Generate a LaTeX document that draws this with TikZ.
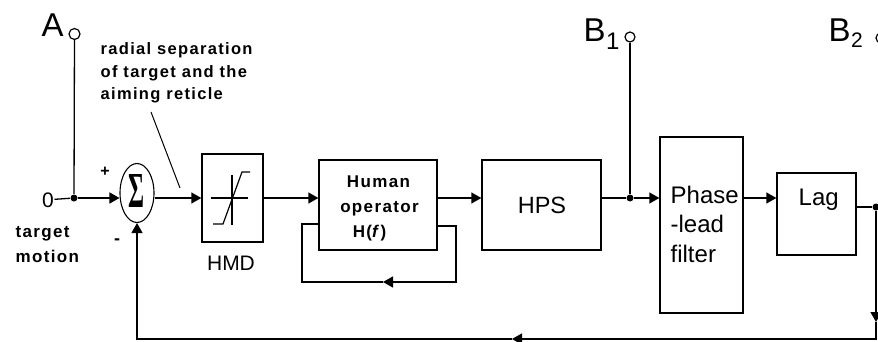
\documentclass[tikz,border=0pt]{standalone}
\usepackage{fontspec}
\setmainfont{Liberation Sans}
\newfontfamily\spc[LetterSpace=8]{Liberation Sans}
\newfontfamily\serf{Liberation Serif}
\usetikzlibrary{arrows.meta,shapes.geometric}
\newcommand\fsz[1]{\fontsize{#1}{#1}\selectfont}
\begin{document}
\begin{tikzpicture}[x=1pt,y=-1pt,line width=1.3pt,
  blk/.style={draw,line width=1.3pt,inner sep=0pt},
  txt/.style={inner sep=0pt,anchor=base west},
  ctxt/.style={inner sep=0pt,anchor=base},
  small/.style={font=\spc\bfseries\fsz{16.5}},
  arr/.style={-{Triangle[length=10pt,width=11pt]}},
  jdot/.style={circle,fill,inner sep=0pt,minimum size=7pt},
  term/.style={circle,draw,inner sep=0pt,minimum size=10pt,line width=1.2pt,fill=white}]
\useasboundingbox (0,0) rectangle (878,342);
\clip (0,0) rectangle (878,342);
% --- labels at the top
\node[txt,font=\fsz{33}] (lA) at (41,37) {A};
\node[term,minimum size=11pt] (cA) at (74.5,34) {};
\node[txt,small] (r1) at (100,55) {radial separation};
\node[txt,small] (r2) at (100,77.5) {of target and the};
\node[txt,small] (r3) at (100,99.5) {aiming reticle};
\coordinate (an1) at (151,112);
\coordinate (an2) at (180,188);
\draw[line width=1pt] (an1) -- (an2);
% --- input
\node[ctxt,font=\fsz{21}] (in0) at (48,207) {0};
\node[jdot] (jA) at (74,198) {};
\node[txt,font=\spc\bfseries\fsz{17}] (tg1) at (15,237) {target};
\node[txt,font=\spc\bfseries\fsz{17}] (tg2) at (15,262) {motion};
% --- summing junction
\node[draw,ellipse,line width=1.1pt,inner sep=0pt,minimum width=34pt,minimum height=59pt] (sig) at (137,193) {};
\node[inner sep=0pt] (sigt) at (136.5,190.5) {\resizebox{16pt}{33pt}{\serf\bfseries Σ}};
\node[inner sep=0pt,font=\bfseries\fsz{16}] (plus) at (105,172) {+};
\node[inner sep=0pt,font=\bfseries\fsz{18}] (minus) at (117,242) {-};
% --- HMD
\node[blk,minimum width=61pt,minimum height=88pt] (hmd) at (232.5,198) {};
\draw[line width=1.2pt] (211,198) -- (248,198);
\draw[line width=1.2pt] (232,175) -- (232,225);
\draw[line width=1.2pt] (213,224) -- (223,224) -- (242,172) -- (250,172);
\node[ctxt,font=\fsz{21}] (hmdt) at (231,270) {HMD};
% --- human operator
\node[blk,minimum width=118pt,minimum height=90pt] (ho) at (378,205) {};
\node[ctxt,font=\spc\bfseries\fsz{17}] (ho1) at (378.5,187) {Human};
\node[ctxt,font=\spc\bfseries\fsz{17}] (ho2) at (379.5,212) {operator};
\node[ctxt,font=\spc\bfseries\fsz{17}] (ho3) at (369.5,237) {H(\textit{f})};
% --- HPS
\node[blk,minimum width=119pt,minimum height=90pt] (hps) at (541.5,205) {};
\node[ctxt,font=\fsz{23.5}] (hpst) at (542,213) {HPS};
% --- phase-lead filter
\node[blk,minimum width=83pt,minimum height=176pt] (pl) at (701.5,225) {};
\node[txt,font=\fsz{24}] (pl1) at (670,203) {Phase};
\node[txt,font=\fsz{24}] (pl2) at (670,232) {-lead};
\node[txt,font=\fsz{24}] (pl3) at (670,262) {filter};
% --- lag
\node[blk,minimum width=79pt,minimum height=82pt] (lag) at (816.5,214) {};
\node[txt,font=\fsz{24}] (lagt) at (798,205) {Lag};
% --- B1, B2
\node[txt,font=\fsz{33}] (lB1) at (583,42) {B};
\node[txt,font=\fsz{24}] (lB1s) at (605.5,50) {1};
\node[term] (cB1) at (630,37) {};
\node[jdot] (jB1) at (630,198) {};
\node[txt,font=\fsz{33}] (lB2) at (828,42) {B};
\node[txt,font=\fsz{21}] (lB2s) at (850.5,48) {2};
\node[term] (cB2) at (881,38) {};
\node[jdot] (jB2) at (876,207) {};
% --- forward path
\draw (in0) -- (jA);
\draw (cA) -- (jA);
\draw[arr] (jA) -- (jA -| sig.west);
\draw[arr] (sig.east |- jA) -- (hmd.west |- jA);
\draw[arr] (hmd.east |- jA) -- (ho.west |- jA);
\draw[arr] (ho.east |- jA) -- (hps.west |- jA);
\draw (hps.east |- jA) -- (jB1);
\draw (cB1) -- (jB1);
\draw[arr] (jB1) -- (pl.west |- jB1);
\draw[arr] (pl.east |- jB1) -- (lag.west |- jB1);
\draw (lag.east |- jB2) -- (jB2);
% --- human operator inner loop
\coordinate (lo1) at (456,226);
\coordinate (lo2) at (456,282);
\coordinate (lo3) at (383,282);
\coordinate (lo4) at (302,282);
\coordinate (lo5) at (302,224);
\draw[arr] (ho.east |- lo1) -- (lo1) -- (lo2) -- (lo3);
\draw (lo3) -- (lo4) -- (lo5) -- (ho.west |- lo5);
% --- outer feedback
\coordinate (fr1) at (876,322);
\coordinate (frc) at (876,339);
\coordinate (fb1) at (512,339);
\coordinate (flc) at (137,339);
\draw[arr] (jB2) -- (fr1);
\draw[arr] (fr1) -- (frc) -- (fb1);
\draw[arr] (fb1) -- (flc) -- (sig.south);
\end{tikzpicture}
\end{document}
